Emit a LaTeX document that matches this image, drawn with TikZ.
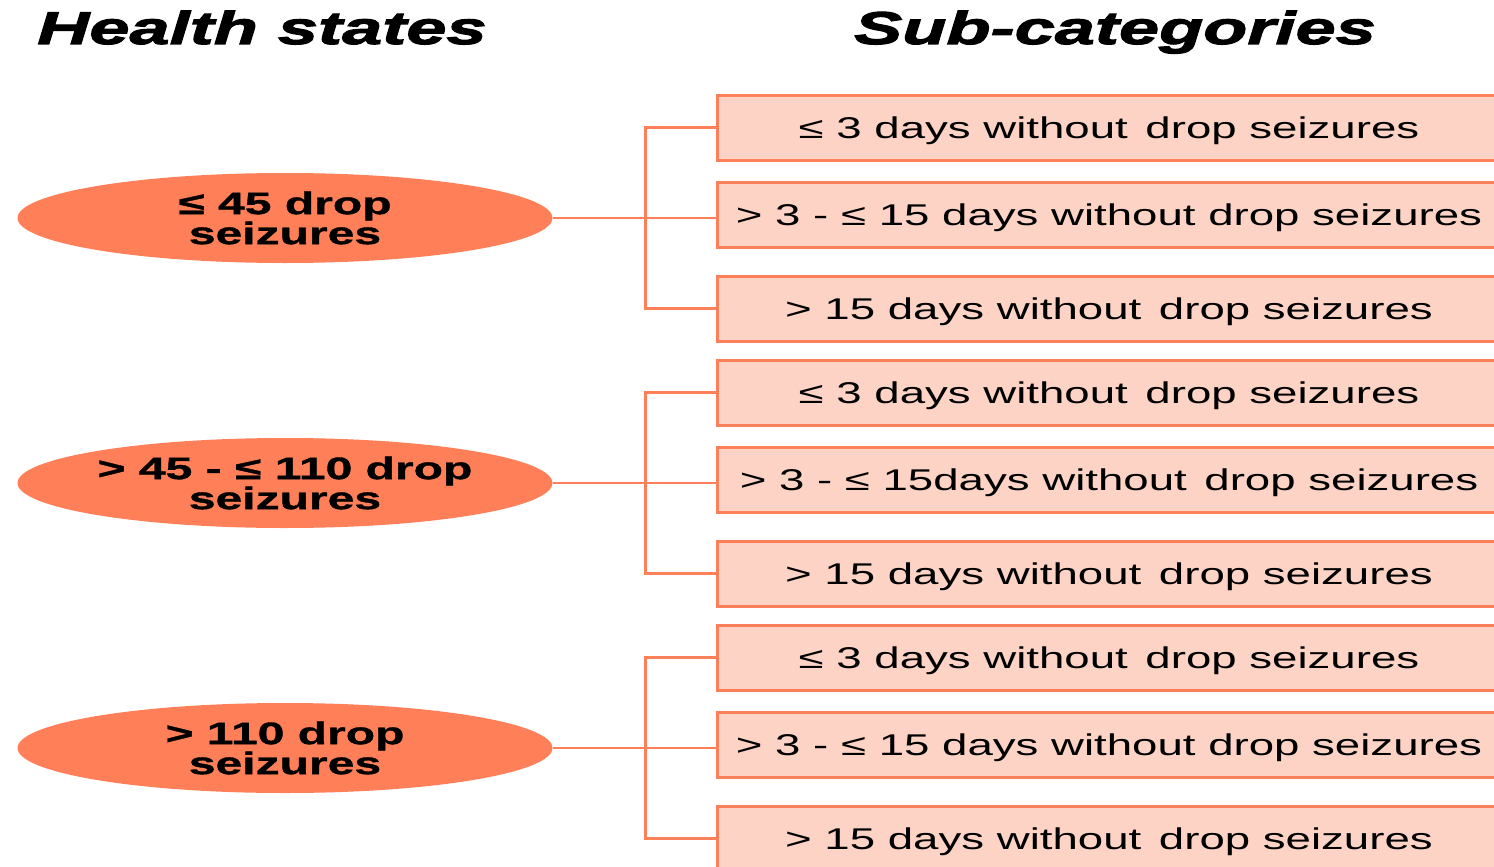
\documentclass[tikz,border=0pt]{standalone}
\usepackage{fontspec}
\setmainfont{Liberation Sans}[FakeStretch=1.52]
\newfontfamily\statefont{Liberation Sans Bold}[FakeStretch=1.55,FakeBold=1.2]
\newfontfamily\titlefont{Liberation Sans Bold Italic}[FakeStretch=1.57,FakeBold=2.5]
\usetikzlibrary{shapes.geometric}
\definecolor{coral}{HTML}{FF7F59}
\definecolor{pale}{HTML}{FCD3C5}
\tikzset{
  state/.style={ellipse, fill=coral, draw=none, minimum width=535pt, minimum height=90pt, inner sep=0pt,
    align=center, font=\fontsize{31}{30}\selectfont\statefont},
  sub/.style={rectangle, fill=pale, draw=coral, line width=3pt, minimum width=784pt, minimum height=65pt,
    inner sep=0pt, text height=21.5pt, text depth=0pt, font=\fontsize{30}{30}\selectfont},
  conn/.style={draw=coral, line width=2.6pt},
  ttl/.style={font=\fontsize{46}{46}\selectfont\titlefont, inner sep=0pt, anchor=base}
}
\begin{document}
\begin{tikzpicture}[x=1pt,y=-1pt]
\useasboundingbox (0,0) rectangle (1494,867);
\node[ttl] (t1) at (262,44) {Health states};
\node[ttl] (t2) at (1115,44) {Sub-categories};

\node[state] (e1) at (285,218) {≤ 45 drop\\seizures};
\node[state] (e2) at (285,483) {> 45 - ≤ 110 drop\\seizures};
\node[state] (e3) at (285,748) {> 110 drop\\seizures};

\node[sub] (b1) at (1109,127.5) {≤ 3 days without\, drop seizures};
\node[sub] (b2) at (1109,214.5) {> 3 - ≤ 15 days without drop seizures};
\node[sub] (b3) at (1109,308.5) {> 15 days without\, drop seizures};
\node[sub] (b4) at (1109,392.5) {≤ 3 days without\, drop seizures};
\node[sub] (b5) at (1109,479.5) {> 3 - ≤ 15days without\, drop seizures};
\node[sub] (b6) at (1109,573.5) {> 15 days without\, drop seizures};
\node[sub] (b7) at (1109,657.5) {≤ 3 days without\, drop seizures};
\node[sub] (b8) at (1109,744.5) {> 3 - ≤ 15 days without drop seizures};
\node[sub] (b9) at (1109,838.5) {> 15 days without\, drop seizures};

\draw[conn] (e1.east) -- (e1.east -| b2.west);
\draw[conn] (b1.west) -- ++(-70,0) |- (b3.west);
\draw[conn] (e2.east) -- (e2.east -| b5.west);
\draw[conn] (b4.west) -- ++(-70,0) |- (b6.west);
\draw[conn] (e3.east) -- (e3.east -| b8.west);
\draw[conn] (b7.west) -- ++(-70,0) |- (b9.west);
\end{tikzpicture}
\end{document}
